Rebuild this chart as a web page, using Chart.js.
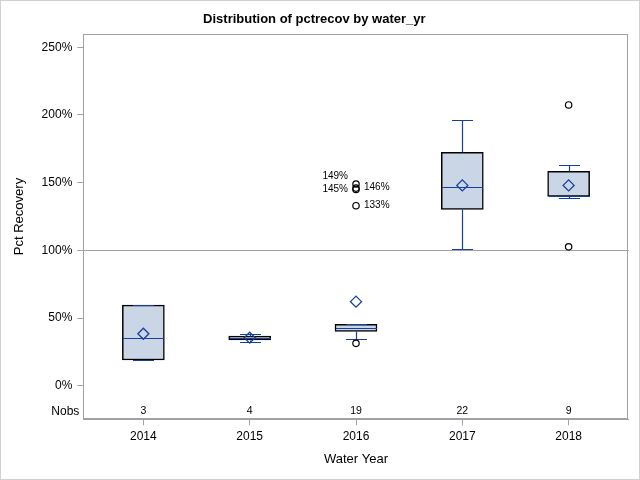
<!DOCTYPE html>
<html lang="en">
<head>
    <meta charset="UTF-8">
    <title>Distribution of pctrecov by water_yr</title>
    <script src="https://cdn.jsdelivr.net/npm/chart.js"></script>
    <style>
        body { margin: 0; background: white; }
        #wrap { width: 640px; height: 480px; }
    </style>
</head>
<body>
    <div id="wrap"><canvas id="boxChart" width="640" height="480"></canvas></div>

    <script>
        // box statistics per water year (percent recovery)
        const years = [2014, 2015, 2016, 2017, 2018];
        const nobs = [3, 4, 19, 22, 9];
        const q1 = [19.0, 33.8, 40.2, 130.3, 139.9];
        const median = [35.2, 35.2, 42.4, 146.6, 140.4];
        const q3 = [59.6, 36.7, 45.4, 172.4, 158.4];
        const whiskerLow = [19.0, 32.3, 34.3, 101.0, 138.4];
        const whiskerHigh = [59.6, 38.2, 45.4, 196.1, 162.8];
        const means = [38.4, 35.5, 62.1, 148.0, 148.0];

        const outlierYears = [2016, 2016, 2016, 2016, 2016, 2018, 2018];
        const outlierValues = [149, 146, 145, 133, 31.3, 207.4, 102.6];
        const outlierLabels = ['149%', '146%', '145%', '133%', '', '', ''];

        const yTicks = [0, 50, 100, 150, 200, 250];
        const refValue = 100;

        const blue = '#14409F';
        const frameGray = '#9EA2A6';
        const font = "'Liberation Sans', Arial, sans-serif";

        // where each outlier label sits next to its marker
        const labelPlace = {
            '149%': { side: 'left', dy: -8 },
            '145%': { side: 'left', dy: 0 },
            '146%': { side: 'right', dy: -1 },
            '133%': { side: 'right', dy: 0 }
        };

        const boxPlugin = {
            id: 'boxExtras',
            beforeDraw(chart) {
                let ctx = chart.ctx;
                ctx.save();
                ctx.fillStyle = 'white';
                ctx.fillRect(0, 0, chart.width, chart.height);
                ctx.strokeStyle = '#D0D0D0';
                ctx.lineWidth = 1;
                ctx.strokeRect(0.5, 0.5, chart.width - 1, chart.height - 1);
                ctx.restore();
            },
            beforeDatasetsDraw(chart) {
                let ctx = chart.ctx;
                let a = chart.chartArea;
                let y = chart.scales.y;
                ctx.save();
                // reference line
                let ry = Math.round(y.getPixelForValue(refValue)) + 0.5;
                ctx.strokeStyle = '#A0A0A0';
                ctx.lineWidth = 1;
                ctx.beginPath();
                ctx.moveTo(a.left, ry);
                ctx.lineTo(a.right, ry);
                ctx.stroke();
                ctx.restore();
            },
            afterDatasetDraw(chart, args) {
                if (args.index !== 0) return;
                let ctx = chart.ctx;
                let x = chart.scales.x;
                let y = chart.scales.y;
                let half = 20.5;
                let cap = 10.5;
                ctx.save();
                ctx.strokeStyle = blue;
                ctx.lineWidth = 1.2;
                years.forEach((yr, i) => {
                    let cx = Math.round(x.getPixelForValue(yr)) + 0.5;
                    let py = v => Math.round(y.getPixelForValue(v)) + 0.5;
                    ctx.beginPath();
                    // median
                    ctx.moveTo(cx - half, py(median[i]));
                    ctx.lineTo(cx + half, py(median[i]));
                    // whiskers
                    ctx.moveTo(cx, py(q3[i]));
                    ctx.lineTo(cx, py(whiskerHigh[i]));
                    ctx.moveTo(cx, py(q1[i]));
                    ctx.lineTo(cx, py(whiskerLow[i]));
                    // caps
                    ctx.moveTo(cx - cap, py(whiskerHigh[i]));
                    ctx.lineTo(cx + cap, py(whiskerHigh[i]));
                    ctx.moveTo(cx - cap, py(whiskerLow[i]));
                    ctx.lineTo(cx + cap, py(whiskerLow[i]));
                    ctx.stroke();
                });
                ctx.restore();
            },
            afterDraw(chart) {
                let ctx = chart.ctx;
                let a = chart.chartArea;
                let x = chart.scales.x;
                let y = chart.scales.y;
                ctx.save();
                // plot frame
                ctx.strokeStyle = frameGray;
                ctx.lineWidth = 1;
                ctx.strokeRect(Math.round(a.left) + 0.5, Math.round(a.top) + 0.5,
                    Math.round(a.right - a.left) - 1, Math.round(a.bottom - a.top) - 1);

                // Nobs row
                let ny = a.bottom - 8;
                ctx.fillStyle = '#000';
                ctx.textBaseline = 'middle';
                ctx.font = '12px ' + font;
                ctx.textAlign = 'right';
                ctx.fillText('Nobs', a.left - 4, ny);
                ctx.font = '10.5px ' + font;
                ctx.textAlign = 'center';
                years.forEach((yr, i) => {
                    ctx.fillText(String(nobs[i]), x.getPixelForValue(yr), ny);
                });

                // outlier labels
                ctx.font = '10px ' + font;
                outlierValues.forEach((v, i) => {
                    let text = outlierLabels[i];
                    if (!text) return;
                    let p = labelPlace[text] || { side: 'right', dy: 0 };
                    let px = x.getPixelForValue(outlierYears[i]);
                    let py = y.getPixelForValue(v) + p.dy;
                    if (p.side === 'left') {
                        ctx.textAlign = 'right';
                        ctx.fillText(text, px - 8, py);
                    } else {
                        ctx.textAlign = 'left';
                        ctx.fillText(text, px + 8, py);
                    }
                });

                // y axis title, centred on the 0–250 range
                let cy = (y.getPixelForValue(yTicks[0]) + y.getPixelForValue(yTicks[yTicks.length - 1])) / 2;
                ctx.translate(19, cy);
                ctx.rotate(-Math.PI / 2);
                ctx.font = '13px ' + font;
                ctx.textAlign = 'center';
                ctx.fillText('Pct Recovery', 0, 0);
                ctx.restore();
            }
        };

        let ctx = document.getElementById('boxChart').getContext('2d');
        let chart = new Chart(ctx, {
            type: 'scatter',
            data: {
                datasets: [
                    {
                        type: 'bar',
                        label: 'IQR',
                        data: years.map((yr, i) => ({ x: yr, y: [q1[i], q3[i]] })),
                        backgroundColor: '#CAD5E5',
                        borderColor: '#000000',
                        borderWidth: 1.5,
                        borderSkipped: false,
                        barThickness: 42,
                        order: 3
                    },
                    {
                        label: 'Outliers',
                        data: outlierYears.map((yr, i) => ({ x: yr, y: outlierValues[i] })),
                        pointStyle: 'circle',
                        pointRadius: 3.2,
                        borderColor: '#000000',
                        backgroundColor: 'rgba(0,0,0,0)',
                        borderWidth: 1.2,
                        order: 2
                    },
                    {
                        label: 'Mean',
                        data: years.map((yr, i) => ({ x: yr, y: means[i] })),
                        pointStyle: 'rectRot',
                        pointRadius: 5.5,
                        borderColor: blue,
                        backgroundColor: 'rgba(0,0,0,0)',
                        borderWidth: 1.3,
                        order: 1
                    }
                ]
            },
            options: {
                responsive: false,
                animation: false,
                layout: { padding: { top: 0, left: 0, right: 11.3, bottom: 0 } },
                plugins: {
                    legend: { display: false },
                    tooltip: { enabled: false },
                    title: {
                        display: true,
                        text: 'Distribution of pctrecov by water_yr',
                        color: '#000',
                        font: { family: font, size: 13, weight: 'bold' },
                        padding: { top: 12, bottom: 6.7 }
                    }
                },
                scales: {
                    x: {
                        type: 'linear',
                        min: 2013.435,
                        max: 2018.565,
                        offset: false,
                        afterBuildTicks: scale => { scale.ticks = years.map(v => ({ value: v })); },
                        afterFit: scale => { scale.height = 60.7; },
                        ticks: {
                            color: '#000',
                            font: { family: font, size: 12 },
                            padding: 4,
                            callback: v => String(v)
                        },
                        grid: { display: true, drawOnChartArea: false, offset: false, tickLength: 6, color: frameGray },
                        border: { display: true, color: frameGray },
                        title: {
                            display: true,
                            text: 'Water Year',
                            color: '#000',
                            font: { family: font, size: 13 },
                            padding: { top: 4, bottom: 13 }
                        }
                    },
                    y: {
                        min: -24.8,
                        max: 259.6,
                        afterBuildTicks: scale => { scale.ticks = yTicks.map(v => ({ value: v })); },
                        afterFit: scale => { scale.width = 83.3; },
                        ticks: {
                            color: '#000',
                            font: { family: font, size: 12 },
                            padding: 5,
                            callback: v => v + '%'
                        },
                        grid: { display: true, drawOnChartArea: false, tickLength: 6, color: frameGray },
                        border: { display: true, color: frameGray }
                    }
                }
            },
            plugins: [boxPlugin]
        });
    </script>
</body>
</html>
